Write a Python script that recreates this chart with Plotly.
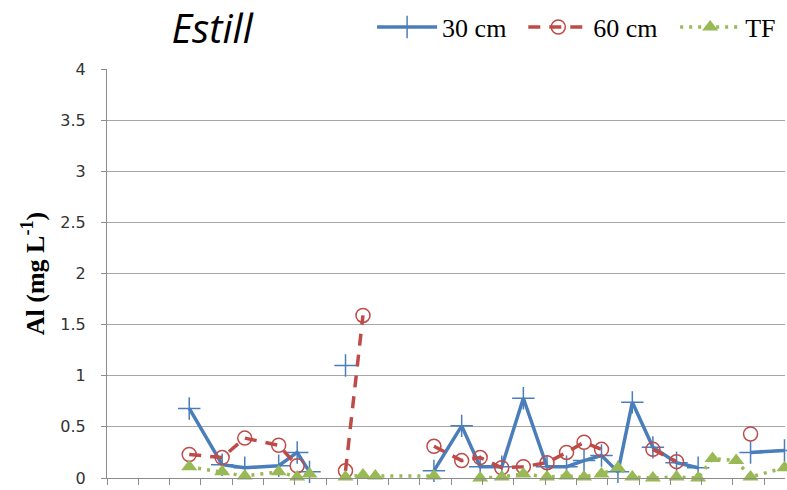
import plotly.graph_objects as go

# Sampling day (days from start of record) and Al concentrations (mg/L)
sample_day = [80, 112, 134, 167, 185, 197, 215, 232, 249, 261, 318, 345, 363, 384,
              405, 428, 447, 464, 481, 497, 511, 531, 554, 575, 589, 612, 626, 659]

al_30cm = [0.68, 0.13, 0.10, 0.12, 0.25, 0.06, None, 1.10, None, None, 0.07, 0.51,
           0.11, 0.11, 0.78, 0.11, 0.11, 0.17, 0.22, 0.06, 0.74, 0.30, 0.15, 0.10,
           None, None, 0.25, 0.27]

al_60cm = [0.23, 0.20, 0.39, 0.32, 0.12, None, None, 0.07, 1.59, None, 0.31, 0.17,
           0.20, 0.10, 0.11, 0.15, 0.25, 0.35, 0.28, None, None, 0.28, 0.16, None,
           None, None, 0.43, None]

al_tf = [0.11, 0.06, 0.02, 0.06, 0.01, 0.04, None, 0.01, 0.03, 0.02, 0.02, None,
         0.00, 0.01, 0.04, 0.01, 0.02, 0.01, 0.04, 0.10, 0.01, 0.00, 0.01, 0.00,
         0.19, 0.17, 0.01, 0.10]

y_ticks = [0, 0.5, 1, 1.5, 2, 2.5, 3, 3.5, 4]
y_tick_text = ["0", "0.5", "1", "1.5", "2", "2.5", "3", "3.5", "4"]

BLUE = "#4A7EBB"
RED = "#BE4B48"
GREEN = "#98B954"
GRID = "#A6A6A6"
AXIS = "#8C8C8C"

fig = go.Figure()

fig.add_trace(go.Scatter(
    x=sample_day, y=al_30cm, name="30 cm", mode="lines+markers",
    connectgaps=False, cliponaxis=False, legend="legend", showlegend=True,
    line=dict(color=BLUE, width=3.5),
    marker=dict(symbol="cross-thin", size=16, line=dict(color=BLUE, width=1.5)),
))

fig.add_trace(go.Scatter(
    x=sample_day, y=al_60cm, name="60 cm", mode="lines+markers",
    connectgaps=False, cliponaxis=False, legend="legend2", showlegend=True,
    line=dict(color=RED, width=3.5, dash="12px,9px"),
    marker=dict(symbol="circle-open", size=14, color=RED, line=dict(color=RED, width=1.5)),
))

fig.add_trace(go.Scatter(
    x=sample_day, y=al_tf, name="TF", mode="lines+markers",
    connectgaps=False, cliponaxis=False, legend="legend3", showlegend=True,
    line=dict(color=GREEN, width=3.5, dash="3px,6px"),
    marker=dict(symbol="triangle-up", size=14, color=GREEN),
))

# one legend box per series, laid out in a row above the plot
legend_style = dict(
    orientation="h", xanchor="left", y=1.16, yanchor="top",
    font=dict(family="Liberation Serif", size=26, color="black"),
    itemwidth=60, bgcolor="rgba(0,0,0,0)", visible=True,
)

fig.update_layout(
    width=787, height=490,
    showlegend=True,
    margin=dict(l=107, r=2, t=69, b=12),
    paper_bgcolor="white", plot_bgcolor="white",
    title=dict(
        text="Estill", x=0.155, xref="paper", xanchor="center",
        y=0.94, yanchor="middle",
        font=dict(family="Open Sans", size=40, style="italic", color="black"),
    ),
    legend=dict(x=0.391, **legend_style),
    legend2=dict(x=0.614, **legend_style),
    legend3=dict(x=0.838, **legend_style),
    xaxis=dict(
        range=[0, 659.5], showgrid=False, zeroline=False,
        showline=True, linecolor=AXIS, linewidth=1,
        tickmode="linear", tick0=0, dtick=30.44,
        ticks="outside", ticklen=6, tickcolor=AXIS, showticklabels=False,
    ),
    yaxis=dict(
        range=[0, 4], tickmode="array", tickvals=y_ticks, ticktext=y_tick_text,
        showgrid=True, gridcolor=GRID, gridwidth=1, zeroline=False,
        showline=True, linecolor=AXIS, linewidth=1,
        ticks="outside", ticklen=5, tickcolor=AXIS, ticklabelstandoff=12,
        tickfont=dict(family="DejaVu Sans", size=16, color="#333333"),
        title=dict(
            text="<b>Al (mg L<sup>-1</sup>)</b>", standoff=8,
            font=dict(family="Liberation Serif", size=26, color="black"),
        ),
    ),
)

fig.write_html("out.html")
